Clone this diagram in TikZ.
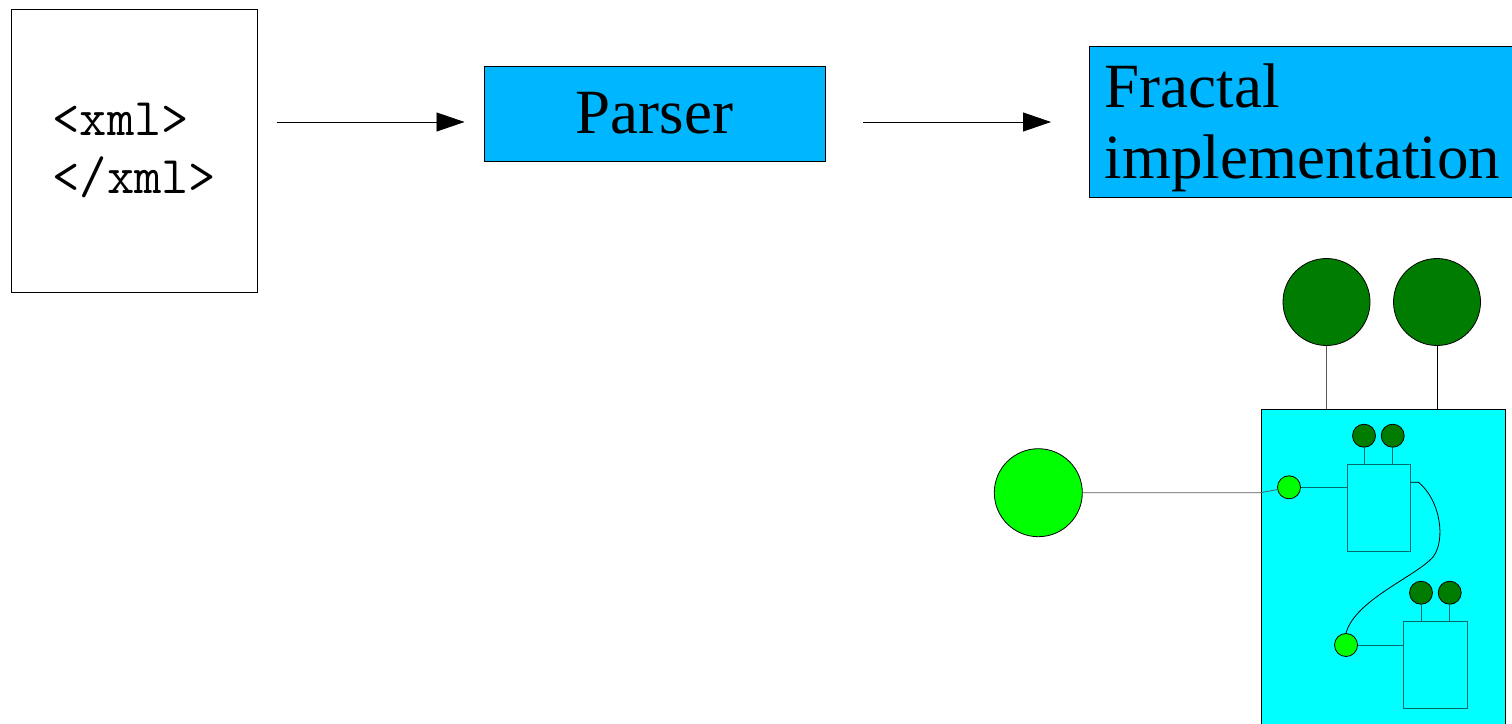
\documentclass[tikz,border=0pt]{standalone}
\usepackage{fontspec}
\setmainfont{Liberation Serif}
\usetikzlibrary{arrows.meta}

\definecolor{parserblue}{RGB}{0,183,255}
\definecolor{membrane}{RGB}{0,255,255}
\definecolor{itfgreen}{RGB}{0,125,0}
\definecolor{bindgreen}{RGB}{0,255,0}
\definecolor{innerline}{RGB}{0,105,105}

\begin{document}
\begin{tikzpicture}[x=1pt,y=-1pt,line width=0.8pt,
    box/.style={draw, rectangle, inner sep=0pt},
    proc/.style={box, fill=parserblue},
    srv/.style={draw, circle, fill=itfgreen, inner sep=0pt},
    cli/.style={draw, circle, fill=bindgreen, inner sep=0pt},
    flow/.style={-{Triangle[length=28pt,width=19pt]}},
    wire/.style={draw=black!65}]
    \useasboundingbox (0,0) rectangle (1512,723);

    % xml file -> parser -> fractal implementation
    \node (xmlfile) [box, minimum width=246pt, minimum height=283pt, anchor=north west, align=left,
        font=\ttfamily\fontsize{53}{58}\selectfont] at (11,9) {<xml>\\</xml>};
    \node (parser) [proc, minimum width=341pt, minimum height=95pt, anchor=north west,
        font=\fontsize{63}{71}\selectfont] at (483.5,65.5) {Parser};
    \node (impl) [proc, minimum width=426pt, minimum height=151pt, anchor=north west, align=left,
        text depth=2pt, font=\fontsize{63}{71}\selectfont] at (1089,46) {Fractal\\implementation};

    \coordinate (row) at (0,122);
    \draw[flow, shorten <=19pt, shorten >=19pt] (xmlfile.east |- row) -- (parser.west |- row);
    \draw[flow, shorten <=38pt, shorten >=38pt] (parser.east |- row) -- (impl.west |- row);

    % composite component with its interfaces
    \node (comp) [box, fill=membrane, minimum width=244pt, minimum height=330pt, anchor=north west] at (1260.5,408.5) {};
    \node (itfA) [srv, minimum size=87pt] at (1326.5,302) {};
    \node (itfB) [srv, minimum size=87pt] at (1437,302) {};
    \draw[wire] (itfA.south) -- (itfA.south |- comp.north);
    \draw (itfB.south) -- (itfB.south |- comp.north);
    \node (cltA) [cli, minimum size=88pt] at (1038.3,492.7) {};

    % sub components
    \node (subA) [box, draw=innerline, fill=membrane, minimum width=63pt, minimum height=87pt, anchor=north west] at (1346.7,464.3) {};
    \node (subAi) [srv, minimum size=23pt] at (1364,435.7) {};
    \node (subAj) [srv, minimum size=23pt] at (1392.7,435.7) {};
    \node (bindA) [cli, minimum size=23pt] at (1289,487.3) {};

    \node (subB) [box, draw=innerline, fill=membrane, minimum width=64pt, minimum height=87pt, anchor=north west] at (1403.3,621) {};
    \node (subBi) [srv, minimum size=23pt] at (1421,592.7) {};
    \node (subBj) [srv, minimum size=23pt] at (1449.7,592.7) {};
    \node (bindB) [cli, minimum size=23pt] at (1346,645) {};

    \draw[innerline] (subAi.south) -- (subAi.south |- subA.north);
    \draw[innerline] (subAj.south) -- (subAj.south |- subA.north);
    \draw[innerline] (subBi.south) -- (subBi.south |- subB.north);
    \draw[innerline] (subBj.south) -- (subBj.south |- subB.north);
    \draw[innerline] (bindA) -- (bindA -| subA.west);
    \draw[innerline] (bindB) -- (bindB -| subB.west);

    \draw[wire] (cltA) -- (cltA -| comp.west) -- (bindA);
    \draw ([yshift=-18pt]subA.north east) -- ++(8,0) .. controls +(22,18) and (1446,540) .. (1433,557)
        .. controls (1415,577) and (1355,600) .. (bindB.north);
\end{tikzpicture}
\end{document}
